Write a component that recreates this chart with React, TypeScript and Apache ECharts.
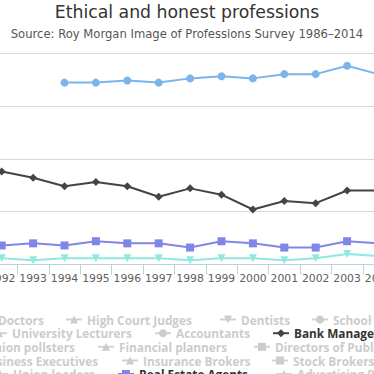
import React, { useEffect, useRef } from "react";
import * as echarts from "echarts";

// ---------- data ----------
const TITLE = "Ethical and honest professions";
const SUBTITLE = "Source: Roy Morgan Image of Professions Survey 1986–2014";

const years = ["1992", "1993", "1994", "1995", "1996", "1997", "1998", "1999", "2000", "2001", "2002", "2003", "2004"];

const nurses = [null, null, 86, 86, 87, 86, 88, 89, 88, 90, 90, 94, 90];
const bankManagers = [44, 41, 37, 39, 37, 32, 36, 33, 26, 30, 29, 35, 35];
const realEstateAgents = [9, 10, 9, 11, 10, 10, 8, 11, 10, 8, 8, 11, 10];
const carSalesmen = [3, 2, 3, 3, 3, 3, 2, 3, 3, 2, 3, 5, 4];

const yMin = 0;
const yMax = 100;
const yInterval = 25;

// series shown in the legend, in legend order; hidden ones carry no readable data
const professions = [
  "Nurses", "Doctors", "High Court Judges", "Dentists", "School Teachers",
  "University Lecturers", "Accountants", "Bank Managers",
  "Public opinion pollsters", "Financial planners", "Directors of Public Companies",
  "Business Executives", "Insurance Brokers", "Stock Brokers",
  "Union leaders", "Real Estate Agents", "Advertising People", "Car Salesmen",
];
const visibleData: Record<string, (number | null)[]> = {
  "Nurses": nurses,
  "Bank Managers": bankManagers,
  "Real Estate Agents": realEstateAgents,
  "Car Salesmen": carSalesmen,
};

// ---------- styles / layout ----------
const palette: Record<string, string> = {
  "Nurses": "#7cb5ec",
  "Bank Managers": "#434348",
  "Real Estate Agents": "#8085e9",
  "Car Salesmen": "#91e8e1",
};
const fallbackColors = ["#90ed7d", "#f7a35c", "#f15c80", "#e4d354", "#2b908f", "#f45b5b"];
const symbols: Record<string, string> = {
  "Nurses": "circle", "Doctors": "diamond", "High Court Judges": "triangle", "Dentists": "triangle",
  "School Teachers": "circle", "University Lecturers": "triangle", "Accountants": "circle",
  "Bank Managers": "diamond", "Public opinion pollsters": "diamond", "Financial planners": "triangle",
  "Directors of Public Companies": "rect", "Business Executives": "diamond", "Insurance Brokers": "triangle",
  "Stock Brokers": "rect", "Union leaders": "triangle", "Real Estate Agents": "rect",
  "Advertising People": "triangle", "Car Salesmen": "triangle",
};
const flipped: Record<string, boolean> = { "Dentists": true, "Car Salesmen": true };

const W = 800;
const H = 374;
const OX = 213; // inner chart shifted left so the view shows the middle part

// legend item positions: [name, symbol-left x in view, row]
const legendLayout: [string, number, number][] = [
  ["Nurses", -113, 0], ["Doctors", -24, 0], ["High Court Judges", 65, 0], ["Dentists", 219, 0], ["School Teachers", 311, 0],
  ["University Lecturers", -10, 1], ["Accountants", 154, 1], ["Bank Managers", 272, 1],
  ["Public opinion pollsters", -85, 2], ["Financial planners", 97, 2], ["Directors of Public Companies", 253, 2],
  ["Business Executives", -41, 3], ["Insurance Brokers", 121, 3], ["Stock Brokers", 271, 3],
  ["Union leaders", -9, 4], ["Real Estate Agents", 117, 4], ["Advertising People", 275, 4], ["Car Salesmen", 432, 4],
];
const rowTops = [313.5, 327.2, 340.8, 354.5, 368];

const FONT = "'DejaVu Sans', 'Lucida Grande', Verdana, sans-serif";
const LEGEND_FONT = "'Open Sans', 'Noto Sans', sans-serif";

export default function App() {
  const ref = useRef<HTMLDivElement>(null);

  useEffect(() => {
    if (!ref.current) return;
    const chart = echarts.init(ref.current, null, { renderer: "svg" });

    const selected: Record<string, boolean> = {};
    professions.forEach((p) => (selected[p] = !!visibleData[p]));

    let fb = 0;
    const series = professions.map((name) => {
      const color = palette[name] || fallbackColors[fb++ % fallbackColors.length];
      return {
        name,
        type: "line",
        data: visibleData[name] || [],
        symbol: symbols[name],
        symbolRotate: flipped[name] ? 180 : 0,
        symbolSize: 8,
        showAllSymbol: true,
        connectNulls: false,
        color,
        itemStyle: { color },
        lineStyle: { color, width: 2 },
        emphasis: { disabled: true },
      };
    });

    const legends = legendLayout.map(([name, x, row]) => ({
      data: [name],
      orient: "horizontal",
      left: x + OX,
      top: rowTops[row],
      padding: 0,
      itemWidth: 16,
      itemHeight: 10,
      itemGap: 20,
      selected,
      inactiveColor: "#cccccc",
      inactiveBorderColor: "#cccccc",
      textStyle: {
        fontFamily: LEGEND_FONT,
        fontWeight: "bold",
        fontSize: 11.8,
        lineHeight: 12,
        color: "#333333",
        padding: [0, 0, 0, 0],
      },
    }));

    chart.setOption({
      animation: false,
      backgroundColor: "#ffffff",
      title: [
        {
          text: TITLE,
          left: "center",
          top: 3.6,
          padding: 0,
          textStyle: { fontFamily: FONT, fontSize: 17.3, fontWeight: "normal", color: "#333333" },
        },
        {
          text: SUBTITLE,
          left: "center",
          top: 27.8,
          padding: 0,
          textStyle: { fontFamily: FONT, fontSize: 11.6, fontWeight: "normal", color: "#555555" },
        },
      ],
      legend: legends,
      grid: { left: 199, right: 192.8, top: 53, bottom: H - 264.5, containLabel: false },
      xAxis: {
        type: "category",
        data: years,
        boundaryGap: true,
        axisLine: { show: true, lineStyle: { color: "#C0D0E0", width: 1 } },
        axisTick: { show: true, length: 10, interval: 0, alignWithLabel: false, lineStyle: { color: "#C0D0E0" } },
        axisLabel: { interval: 0, margin: 8, color: "#606060", fontFamily: FONT, fontSize: 10.8 },
        splitLine: { show: false },
      },
      yAxis: {
        type: "value",
        min: yMin,
        max: yMax,
        interval: yInterval,
        axisLine: { show: false },
        axisTick: { show: false },
        axisLabel: { show: false },
        splitLine: { show: true, lineStyle: { color: "#D8D8D8", width: 1 } },
      },
      tooltip: { show: false },
      series,
    });

    return () => chart.dispose();
  }, []);

  return (
    <div
      style={{
        position: "absolute",
        left: 0,
        top: 0,
        width: 374,
        height: 374,
        overflow: "hidden",
        background: "#ffffff",
      }}
    >
      <div ref={ref} style={{ position: "absolute", left: -OX, top: 0, width: W, height: H }} />
    </div>
  );
}
